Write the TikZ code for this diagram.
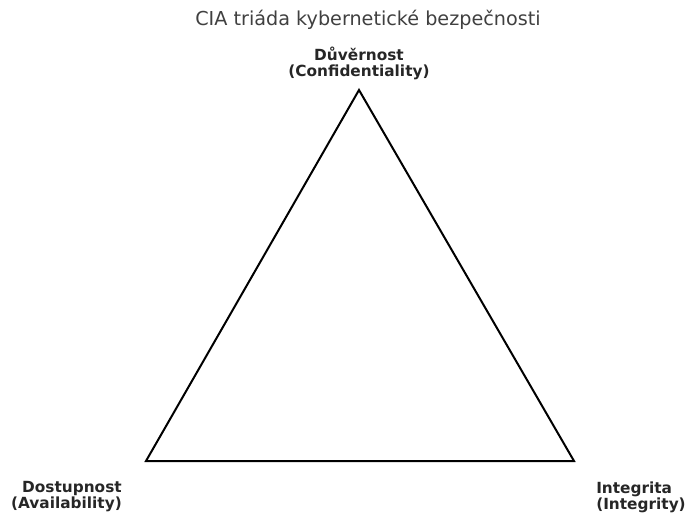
\documentclass[tikz,border=0pt]{standalone}
\usepackage{fontspec}
\setmainfont{DejaVu Sans}
\usepackage{tikz}
\usetikzlibrary{positioning, calc}

\begin{document}
\begin{tikzpicture}[
    x=0.75pt, y=-0.75pt,
    corner/.style={font=\bfseries\fontsize{11.5}{12}\selectfont, text=black!85, inner sep=0pt},
    edge/.style={draw=black, line width=1.5pt, line join=miter}
]

\useasboundingbox (0,0) rectangle (686,517);

\node[font=\fontsize{14.4}{16}\selectfont, text=black!75] (title) at (368,20) {CIA triáda kybernetické bezpečnosti};

\coordinate (conf) at (359,90);
\coordinate (avail) at (146,461);
\coordinate (integ) at (574,461);

\draw[edge] (conf) -- (avail) -- (integ) -- cycle;

\node[corner, align=center] (conflabel) at (359,63) {Důvěrnost\\(Confidentiality)};
\node[corner, align=right, anchor=east] (availlabel) at (122,497) {Dostupnost\\(Availability)};
\node[corner, align=left, anchor=west] (integlabel) at (596,497) {Integrita\\(Integrity)};

\end{tikzpicture}
\end{document}
